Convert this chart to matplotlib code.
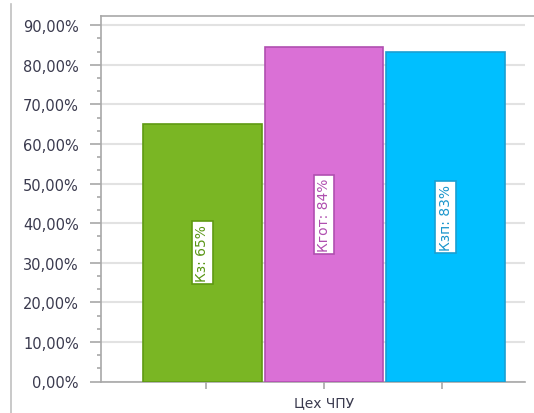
import numpy as np
import matplotlib.pyplot as plt
from matplotlib.lines import Line2D
from matplotlib.ticker import FuncFormatter, MultipleLocator

category = 'Цех ЧПУ'
names = ['Кз', 'Кгот', 'Кзп']
values = [65.1, 84.4, 83.3]
labels = ['Кз: 65%', 'Кгот: 84%', 'Кзп: 83%']
fills = ['#7ab624', '#da70d6', '#00bfff']
edges = ['#5f9a12', '#b04fb0', '#1a9fd2']
text_cols = ['#5a9616', '#b04fb0', '#1a96cc']

fig = plt.figure(figsize=(5.34, 4.14), dpi=100)
ax = fig.add_axes([101 / 534, 31.5 / 414, 424 / 534, 365.5 / 414])

pos = np.array([-1, 0, 1]) * 1.0
for x, v, fc, ec, lab, tc in zip(pos, values, fills, edges, labels, text_cols):
    ax.bar(x, v, width=0.975, color=fc, edgecolor=ec, linewidth=1.2, zorder=3)
    ax.text(x, v / 2, lab, rotation=90, ha='center', va='center',
            fontsize=10, color=tc, zorder=4,
            bbox=dict(boxstyle='square,pad=0.22', fc='white', ec=ec, lw=1.2))

ax.set_xlim(-1.835, 1.654)
ax.set_ylim(0, 92.3)

ax.yaxis.set_major_locator(MultipleLocator(10))
ax.yaxis.set_minor_locator(MultipleLocator(10 / 3))
ax.yaxis.set_major_formatter(FuncFormatter(lambda v, p: f'{v:.2f}%'.replace('.', ',')))
ax.tick_params(axis='y', which='major', length=8, width=1.2, color='#a8a8a8',
               labelsize=10.5, labelcolor='#3a3a4e', pad=8)
ax.tick_params(axis='y', which='minor', length=3, width=1.2, color='#a8a8a8')

ax.set_xticks([0])
ax.set_xticklabels([category])
ax.set_xticks([-0.975, 0.975], minor=True)
ax.tick_params(axis='x', which='both', length=5, width=1.2, color='#a8a8a8',
               labelsize=10, labelcolor='#3a3a4e', pad=5)

ax.grid(axis='y', color='#e2e2e2', linewidth=1.5, zorder=0)
ax.set_axisbelow(True)

for s in ['top', 'right']:
    ax.spines[s].set_visible(False)
for s in ['left', 'bottom']:
    ax.spines[s].set_color('#a8a8a8')
    ax.spines[s].set_linewidth(1.2)

# outer frame lines
fig.add_artist(Line2D([101 / 534, 1], [1 - 17 / 414] * 2, color='#a8a8a8', lw=1.2))
fig.add_artist(Line2D([11 / 534] * 2, [0, 1 - 5 / 414], color='#c0c0c0', lw=1.2))

fig.savefig('out.png', dpi=100)
